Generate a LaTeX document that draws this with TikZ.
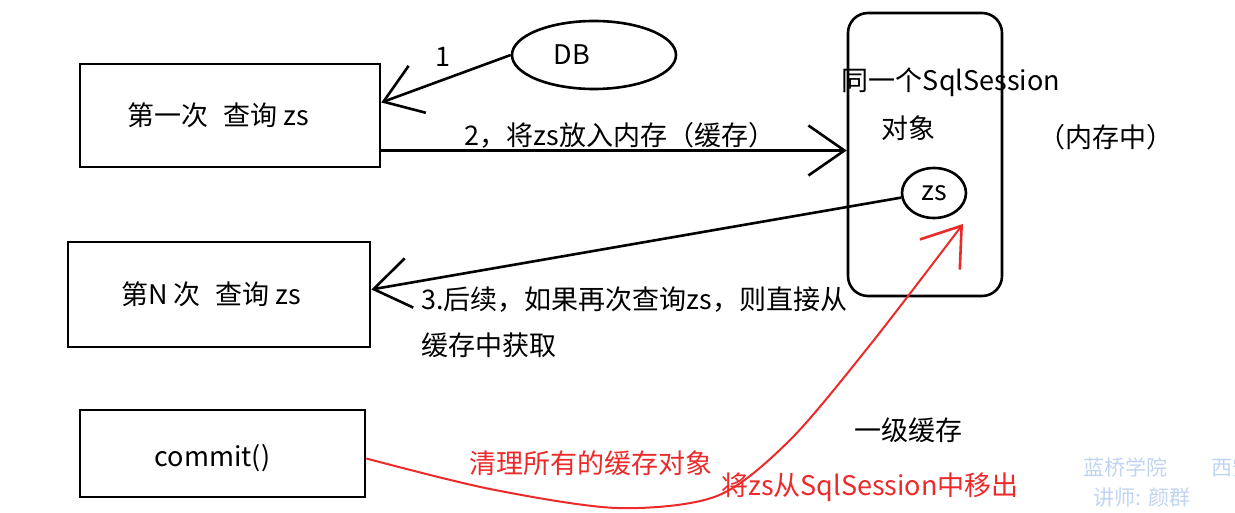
\documentclass[tikz,border=0pt]{standalone}
\usepackage{fontspec}
\setmainfont{Noto Sans CJK SC}
\usepackage{xcolor}
\usetikzlibrary{arrows.meta,shapes.geometric}
\definecolor{markRed}{RGB}{236,42,42}
\definecolor{waterBlue}{RGB}{192,212,242}
\newcommand{\lineWidth}{2.6pt}
\newcommand{\textSize}{\fontsize{27}{31}\selectfont}
\newcommand{\markSize}{\fontsize{21}{25}\selectfont}
\tikzset{
	queryBox/.style={draw, rectangle, inner sep=0pt},
	handArrow/.style={-{Straight Barb[length=36pt,width=50pt,line width=\lineWidth]}},
	markLine/.style={draw=markRed, line width=2pt}
}

\begin{document}
\begin{tikzpicture}[x=1pt, y=-1pt, line width=\lineWidth, font=\textSize, inner sep=0pt]
	\useasboundingbox (0,0) rectangle (1235,513);
	\clip (0,0) rectangle (1235,513);

	% boxes
	\node[queryBox, minimum width=300pt, minimum height=103pt, label={[xshift=-12pt]center:第一次\hspace{0.55em}查询 zs}] (firstQuery) at (230,115.5) {};
	\node[queryBox, minimum width=302pt, minimum height=105pt, label={[xshift=-8pt]center:第N 次\hspace{0.55em}查询 zs}] (nthQuery) at (219,294.5) {};
	\node[queryBox, minimum width=285pt, minimum height=87pt, label={[xshift=-10pt,yshift=-5pt]center:commit()}] (commitBox) at (222.5,453.5) {};
	\node[draw, ellipse, minimum width=164pt, minimum height=68pt, label={[xshift=-22pt]center:DB}] (db) at (594,55) {};
	\node[draw, rectangle, rounded corners=20pt, minimum width=154pt, minimum height=283pt] (session) at (925,154.5) {};
	\node[draw, ellipse, minimum width=64pt, minimum height=50pt] (zs) at (934,193) {zs};

	% texts
	\node (oneLabel) at (443,57) {1};
	\node (putLabel) at (620,135) {2，将zs放入内存（缓存）};
	\node (sessionName) at (951,82) {同一个SqlSession};
	\node (sessionObj) at (908,128) {对象};
	\node (inMemory) at (1106,137) {（内存中）};
	\node[anchor=west] (reuseLabel) at (420,300) {3.后续，如果再次查询zs，则直接从};
	\node[anchor=west] (reuseLabelTwo) at (420,345) {缓存中获取};
	\node (levelOne) at (908,430) {一级缓存};
	\node[text=markRed] (clearLabel) at (591,463) {清理所有的缓存对象};
	\node[text=markRed] (removeLabel) at (870,487) {将zs从SqlSession中移出};

	% watermark
	\node[text=waterBlue, font=\markSize] (schoolMark) at (1125,467) {蓝桥学院};
	\node[text=waterBlue, font=\markSize, anchor=west] (cityMark) at (1210,467) {西安};
	\node[text=waterBlue, font=\markSize] (teacherMark) at (1142,498) {讲师: 颜群};

	% arrows
	\draw[handArrow] (db.west) -- ([yshift=13pt]firstQuery.east);
	\coordinate (putStart) at ([yshift=-35pt]firstQuery.east);
	\draw[handArrow] (putStart) -- (putStart -| session.west);
	\draw[handArrow] (zs.188) -- ([yshift=5pt]nthQuery.east);
	\coordinate (zsTarget) at (963,224);
	\draw[markLine, handArrow] plot[smooth] coordinates {([yshift=-5pt]commitBox.east) (490,489) (617,508) (717,496) (790,440) (870,345) (zsTarget)};
\end{tikzpicture}
\end{document}
